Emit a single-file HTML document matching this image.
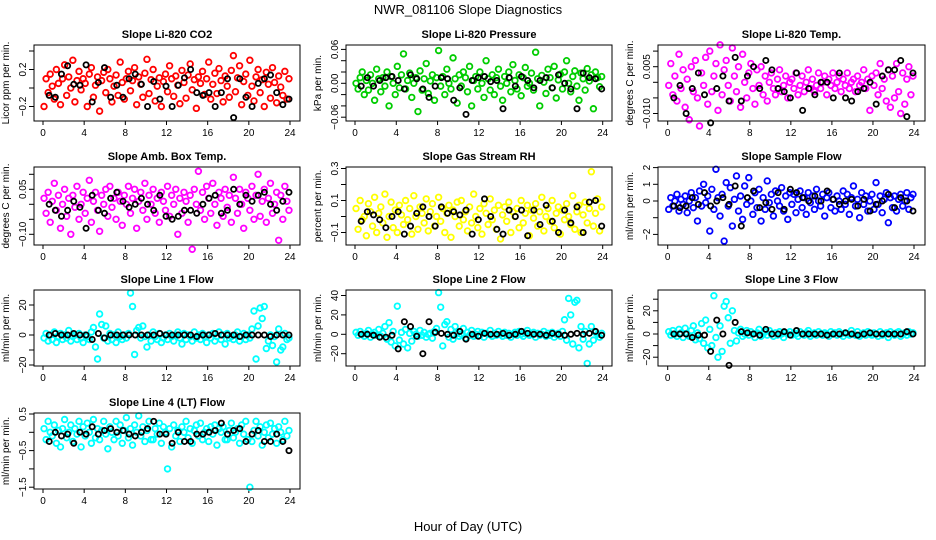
<!DOCTYPE html>
<html><head><meta charset="utf-8"><title>NWR_081106 Slope Diagnostics</title>
<style>
html,body{margin:0;padding:0;background:#fff;}
svg{display:block;font-family:"Liberation Sans",Arial,sans-serif;}
</style></head>
<body>
<svg id="chart" width="936" height="540" viewBox="0 0 936 540" xmlns="http://www.w3.org/2000/svg">
<text x="468" y="14" text-anchor="middle" font-size="13">NWR_081106  Slope Diagnostics</text>
<text x="468" y="531" text-anchor="middle" font-size="13">Hour of Day (UTC)</text>
</svg>
<script>
const xTicks=[0,4,8,12,16,20,24];
const co2Vals=[-.2,.1,-.05,.15,.02,-.12,.2,.05,-.18,.1,.25,-.08,.12,0,.3,-.15,.08,.18,-.02,.1,.05,-.2,.15,.22,-.1,.03,.12,-.25,.08,.17,-.05,.2,.1,-.15,.02,.14,-.08,.28,.06,-.12,.1,.18,-.03,.08,.22,-.18,.12,.04,-.1,.16,.31,-.06,.09,.2,-.14,.02,.11,-.2,.07,.15,-.04,.24,.1,-.09,.13,.03,-.17,.19,.06,-.11,.14,.26,-.02,.09,-.22,.12,.05,.18,-.07,.1,.28,-.12,.04,.16,-.06,.21,.08,-.15,.13,.02,-.1,.19,.35,-.04,.11,.24,-.18,.07,.15,-.08,.3,.02,-.14,.12,.2,-.05,.09,-.2,.17,.04,-.11,.22,.06,-.16,.13,.01,-.08,.18,-.12,.1];
const co2Black=[-.08,-.1,.15,.24,.04,.03,.25,-.15,.06,.22,-.1,.03,-.1,.1,.15,.04,-.2,.07,-.12,.02,-.2,.03,.11,.2,-.05,-.08,-.05,-.2,-.05,.1,-.32,.1,-.1,-.2,.05,.1,.14,-.05,-.18,-.12];
const presVals=[0,-.01,.01,.02,-.02,.005,-.012,.015,0,-.03,.025,.008,-.015,.01,-.005,.02,-.04,.012,0,-.02,.03,-.008,.015,.052,-.01,.005,.018,-.025,0,.01,-.05,.022,-.012,.008,.035,-.018,.004,.015,-.03,.01,.058,-.005,.012,-.02,.025,0,-.01,.045,.008,-.035,.015,-.005,.02,.01,-.015,.03,-.04,.005,.012,-.01,.02,0,-.025,.04,.008,-.012,.015,-.02,.01,.025,-.005,-.03,.012,0,.02,-.015,.033,.005,-.01,.015,-.022,.01,.028,-.005,0,.018,-.012,.055,.008,-.04,.014,.002,-.018,.025,.01,-.008,.03,-.026,.006,.016,-.01,.02,.04,0,-.015,.012,.022,-.005,-.03,.018,.008,-.012,.026,.004,.015,-.045,.02,.01,-.006,.012];
const presBlack=[-.005,.01,-.005,.005,.01,.012,.005,-.01,.015,.008,-.01,-.025,-.005,.01,.008,-.03,-.008,-.055,.005,.01,.012,.003,.005,-.045,.01,-.005,.012,.005,-.008,.005,.01,-.008,.015,0,-.01,-.045,.018,.01,.008,-.01];
const tempVals=[-.001,.006,-.004,.002,-.006,.009,-.002,.004,-.008,.001,-.012,.005,-.003,.007,-.005,-.014,.003,-.001,.008,-.007,.01,-.003,.002,.006,-.009,.012,-.004,.004,.007,-.001,-.006,.011,.002,-.003,.005,-.008,.009,0,-.005,.003,.006,-.002,-.007,.004,-.001,.005,-.004,.002,-.006,0,.003,-.002,-.004,.001,.004,-.003,-.001,.002,-.005,0,.001,-.002,.003,-.004,-.001,.002,-.003,0,.004,-.002,.001,-.003,-.001,.003,-.002,0,.002,-.004,.001,-.001,.003,-.002,0,.002,-.003,.001,-.001,.003,-.002,0,.001,-.003,.002,-.001,0,.004,-.002,.001,-.009,.002,-.001,.003,-.004,.006,-.002,.001,-.006,.004,-.008,.002,-.005,.006,-.003,-.01,.003,-.007,.001,.005,-.004,.002];
const tempBlack=[-.005,-.001,-.01,-.002,.003,-.004,-.013,-.002,.002,-.006,.008,-.006,.002,.005,-.002,.007,.004,-.002,-.003,-.005,.003,-.009,-.002,-.004,0,0,-.005,.003,-.005,-.006,-.003,-.002,0,-.007,.002,.004,.004,.007,-.011,.003];
const ambVals=[.02,-.03,.04,-.06,.01,.07,-.02,.03,-.08,0,.05,-.04,.02,-.1,.03,-.01,.06,-.05,0,.04,-.03,.02,.08,-.06,.01,.04,-.02,-.09,.03,0,.05,-.04,.06,-.01,.02,-.05,.04,.01,-.07,.03,0,.06,-.03,.02,.05,-.08,.01,.04,-.02,.07,-.05,.03,0,.05,-.03,.02,-.06,.04,.01,-.02,.06,-.04,.03,0,.05,-.1,.02,-.03,.04,.01,-.06,.03,-.15,.05,0,.11,-.02,.04,-.05,.06,.02,-.03,.07,0,-.07,.04,.02,-.04,.05,-.01,.03,-.06,.09,.02,-.03,.05,0,-.08,.04,.02,-.02,.06,-.05,.03,.1,-.04,.01,.05,-.06,.02,.07,-.03,0,.04,-.12,.03,-.05,.06,.01,-.02];
const ambBlack=[0,-.02,-.04,-.02,.01,-.01,-.08,.03,-.02,-.03,.02,.04,.01,-.01,0,.02,0,-.02,.03,-.04,-.05,-.04,-.02,-.02,-.03,0,.02,.03,-.03,-.02,.05,0,.03,.01,.03,.04,0,-.02,.01,.04];
const rhVals=[.05,-.08,.1,-.02,0,-.12,.08,.03,-.06,.12,-.1,.02,.06,-.04,.14,-.13,0,.09,-.07,.04,-.1,.07,.01,-.05,.1,-.02,.05,-.11,.13,0,-.08,.06,.02,-.04,.11,-.09,.03,.08,-.06,0,.12,-.03,.05,-.1,.02,.07,-.13,.04,0,.09,-.06,.1,-.02,.03,-.09,.06,-.04,.14,0,-.07,.05,-.11,.08,.02,-.05,.11,-.02,.04,-.08,.07,-.14,.01,.06,-.03,.09,-.1,.03,0,.05,-.07,.1,-.04,.02,.07,-.12,.04,-.01,.08,-.06,.03,.12,-.09,0,.05,-.03,.1,-.07,.02,.06,-.11,.04,-.02,.08,0,-.05,.13,-.08,.03,.07,-.1,.01,.09,-.04,.05,.28,-.06,.02,.11,-.09,.06];
const rhBlack=[-.03,.03,.01,-.02,-.07,0,.03,-.11,-.06,.02,.06,0,-.06,.06,.02,.03,.01,.04,-.11,-.02,.11,0,-.08,-.11,.04,0,.04,-.12,.04,-.05,.07,-.03,-.1,.04,-.04,.06,-.1,.09,.1,-.06];
const sampVals=[-.5,.2,-.3,0,.4,-.6,.1,-.2,.3,-.7,0,.5,-.4,.2,-1.2,.6,-.3,1,-.1,.3,-1.8,.7,-.5,1.9,.2,-.9,.4,-2.4,1.1,-.3,.8,-1.5,.1,1.5,-.6,.3,-1.1,.9,-.2,1.4,0,-.8,.5,-.4,.7,-1.2,.2,-.5,1.2,-.1,.4,-.9,.6,0,-.3,.8,-.6,.3,-1.1,.5,-.2,.4,-.7,.1,.6,-.4,.2,-.8,.5,-.1,.3,-.5,.7,0,-.3,.4,-.9,.2,.5,-.4,.1,-.6,.3,0,-.5,.6,-.2,.4,-.8,.2,.9,-.3,.1,-1,.5,-.2,.3,-.6,0,.4,-.5,1.1,-.2,.3,-.7,.1,.5,-1.3,.2,-.4,.3,-.6,.1,.4,-.3,0,.5,-.5,.2,.4];
const sampBlack=[-.3,-.4,-.3,.2,-.2,.5,-.3,0,.2,-.2,.9,-1.5,.2,.6,-.4,-.1,-.5,.5,-.5,.7,.5,.2,0,.3,0,.6,.1,-.2,0,.1,-.3,.1,-.6,-.2,0,.4,-.4,.2,0,-.6];
const l1Vals=[-2,1,-4,0,-3,2,-5,-1,1,-3,0,-2,3,-4,-1,0,-3,1,-2,-5,0,-1,-3,2,5,-8,-16,14,7,-2,6,-4,1,-3,0,-5,2,-1,-3,0,-2,1,28,19,-13,3,5,-2,6,-1,-8,0,-4,2,-1,-3,1,-5,-2,0,-3,1,-1,-4,0,2,-2,-6,1,-3,0,-1,-4,2,-2,0,-3,1,-1,-5,0,-2,1,-4,-1,2,-3,0,-6,1,-2,-1,-3,0,2,-4,-1,1,-3,0,-2,4,16,-16,6,18,11,19,-9,-4,0,-7,-1,-18,4,-10,-8,1,-3,-2];
const l1Black=[0,1,0,0,1,0,0,-3,1,-2,0,0,0,0,0,0,0,0,1,0,0,0,0,0,-1,0,0,1,0,0,0,-1,0,0,0,0,-1,0,0,0];
const l2Vals=[2,-1,3,0,-2,1,4,-3,0,2,-1,5,-2,1,8,-5,12,-8,3,-12,29,-6,2,-10,5,-14,1,-7,3,0,-2,4,-1,2,-3,0,1,-4,3,6,43,28,-12,10,13,-3,5,-5,8,1,-2,0,6,-4,2,-1,4,-2,0,3,-1,2,-3,1,0,4,-2,1,-1,3,0,-2,2,-1,1,-3,0,2,-1,3,0,-2,1,4,-1,0,2,-3,1,-1,0,3,-2,1,-1,2,-3,0,1,-2,3,15,-6,37,20,-10,33,35,-14,8,-5,3,-30,-10,8,-6,2,0,-3,1];
const l2Black=[0,0,-1,-3,-3,-1,-15,13,8,-2,-20,13,2,1,0,-1,3,-5,0,-2,1,0,0,1,-1,0,3,1,0,0,-1,1,0,-1,0,1,0,1,3,-1];
const l3Vals=[2,-1,3,0,-2,4,1,-3,5,0,-2,3,7,-5,1,-4,9,-8,12,-12,4,-10,33,-3,-20,7,-15,24,28,14,-8,20,3,-6,1,4,-2,0,3,-1,2,0,-3,1,4,-2,0,2,-1,3,0,-2,1,-1,2,0,-3,1,0,2,-1,1,0,-2,2,0,-1,1,3,-2,0,1,-1,2,0,-1,1,0,-2,2,0,1,-1,2,0,-2,1,0,-1,3,0,-1,2,-2,0,1,-1,2,0,-1,1,0,-2,2,-1,0,1,-3,2,0,-1,1,2,-2,0,1,-1,2,0,1];
const l3Black=[0,0,0,-3,-1,-1,-15,12,0,-27,10,2,1,0,-1,4,0,0,2,-1,3,0,0,0,0,-1,0,0,1,0,-1,0,1,0,0,0,0,0,2,0];
const l4Vals=[.1,-.2,.3,0,-.1,.2,-.3,.05,-.4,.1,.35,-.15,0,.2,-.25,.1,-.05,.3,-.4,.15,-.1,.25,0,-.3,.35,-.15,.1,-.2,.05,.3,-.05,-.45,.15,0,-.2,.3,-.1,.2,-.3,.05,.4,-.15,.1,-.35,.2,0,.45,-.1,.15,-.25,.05,.3,-.2,-.2,.1,-.05,.25,-.3,.15,0,-1,.1,-.4,.2,-.1,.05,-.25,.15,0,.3,-.15,.1,-.3,.05,.2,-.1,.25,-.2,0,.1,-.25,.15,-.05,.2,-.35,.1,0,.15,-.2,-.2,.05,.25,-.15,0,.1,-.3,.2,-.05,.3,-.2,-1.5,-.25,.05,.3,-.1,.15,-.35,0,.2,-.15,.25,-.05,.1,-.3,.15,0,-.2,.3,-.1,.05];
const l4Black=[-.25,0,-.1,-.05,-.3,0,-.05,.15,-.05,.05,.1,0,.05,-.05,-.1,0,.1,.3,-.05,-.05,-.3,0,-.25,-.25,-.05,-.05,0,.05,.25,-.05,.05,.1,-.25,-.05,.05,-.25,-.25,-.05,-.25,-.5];

const rowTop=[45,167,290,413], rowBot=[121,245,366,489];
const colL=[34,346,658], colR=[300,612,925], colX0=[43,355,667.7], colX24=[290,602.7,914];
const panels=[
 {id:'co2',title:'Slope Li-820 CO2',ylab:'Licor ppm per min.',c:0,r:0,color:'#ff0000',vals:co2Vals,blk:co2Black,y0:88,unit:0.1,upx:9.25,ticks:[0.4,0.2,0,-0.2],labels:[0.2,-0.2],fmt:v=>v.toFixed(1)},
 {id:'pressure',title:'Slope Li-820 Pressure',ylab:'kPa per min.',c:1,r:0,color:'#00cd00',vals:presVals,blk:presBlack,y0:83.3,unit:0.02,upx:11.3,ticks:[0.06,0.04,0.02,0,-0.02,-0.04,-0.06],labels:[0.06,0,-0.06],fmt:v=>v.toFixed(2)},
 {id:'temp',title:'Slope Li-820 Temp.',ylab:'degrees C per min.',c:2,r:0,color:'#ff00ff',vals:tempVals,blk:tempBlack,y0:82.3,unit:0.005,upx:15.6,ticks:[0.01,0.005,0,-0.005,-0.01],labels:[0.005,-0.01],fmt:v=>v.toFixed(3)},
 {id:'amb-box-temp',title:'Slope Amb. Box Temp.',ylab:'degrees C per min.',c:0,r:1,color:'#ff00ff',vals:ambVals,blk:ambBlack,y0:204.3,unit:0.05,upx:15,ticks:[0.1,0.05,0,-0.05,-0.1],labels:[0.05,-0.1],fmt:v=>v.toFixed(2)},
 {id:'gas-rh',title:'Slope Gas Stream RH',ylab:'percent per min.',c:1,r:1,color:'#ffff00',vals:rhVals,blk:rhBlack,y0:216.5,unit:0.1,upx:16,ticks:[0.3,0.2,0.1,0,-0.1],labels:[0.3,0.1,-0.1],fmt:v=>v.toFixed(1)},
 {id:'sample-flow',title:'Slope Sample Flow',ylab:'ml/min per min.',c:2,r:1,color:'#0000ff',vals:sampVals,blk:sampBlack,y0:201,unit:1,upx:16.7,ticks:[2,1,0,-1,-2],labels:[2,1,0,-2],fmt:v=>String(v)},
 {id:'line1-flow',title:'Slope Line 1 Flow',ylab:'ml/min per min.',c:0,r:2,color:'#00ffff',vals:l1Vals,blk:l1Black,y0:335,unit:10,upx:15,ticks:[20,10,0,-10,-20],labels:[20,0,-20],fmt:v=>String(v)},
 {id:'line2-flow',title:'Slope Line 2 Flow',ylab:'ml/min per min.',c:1,r:2,color:'#00ffff',vals:l2Vals,blk:l2Black,y0:334.3,unit:20,upx:19.4,ticks:[40,20,0,-20],labels:[40,20,0,-20],fmt:v=>String(v)},
 {id:'line3-flow',title:'Slope Line 3 Flow',ylab:'ml/min per min.',c:2,r:2,color:'#00ffff',vals:l3Vals,blk:l3Black,y0:334,unit:10,upx:11.6,ticks:[30,20,10,0,-10,-20],labels:[20,0,-20],fmt:v=>String(v)},
 {id:'line4-flow',title:'Slope Line 4 (LT) Flow',ylab:'ml/min per min.',c:0,r:3,color:'#00ffff',vals:l4Vals,blk:l4Black,y0:432.3,unit:0.5,upx:18.3,ticks:[0.5,0,-0.5,-1,-1.5],labels:[0.5,-0.5,-1.5],fmt:v=>v.toFixed(1)}
];
const NS='http://www.w3.org/2000/svg';
const svg=document.getElementById('chart');
function mk(tag,attrs,parent){const e=document.createElementNS(NS,tag);for(const k in attrs)e.setAttribute(k,attrs[k]);(parent||svg).appendChild(e);return e;}
panels.forEach(p=>{
  const g=mk('g',{});
  
  
  const L=colL[p.c],R=colR[p.c],T=rowTop[p.r],B=rowBot[p.r];
  const xs=h=>colX0[p.c]+(colX24[p.c]-colX0[p.c])*h/24;
  const ys=v=>p.y0-v/p.unit*p.upx;
  const t=mk('text',{x:(L+R)/2,y:T-7,'text-anchor':'middle','font-size':'11','font-weight':'bold'},g);
  t.textContent=p.title;
  
  
  const yl=mk('text',{x:0,y:0,'text-anchor':'middle','font-size':'10',transform:`translate(${L-25},${(T+B)/2}) rotate(-90)`},g);
  yl.textContent=p.ylab;
  
  
  p.ticks.forEach(v=>{
    const y=ys(v);
    const tk=mk('line',{x1:L-5,x2:L,y1:y,y2:y,stroke:'#000','stroke-width':1},g);
    
    
  });
  p.labels.forEach(v=>{
    const y=ys(v);
    const lb=mk('text',{x:0,y:0,'text-anchor':'middle','font-size':'10',transform:`translate(${L-8},${y}) rotate(-90)`},g);
    lb.textContent=p.fmt(v).replace(/^-/,'−');
    
    
  });
  xTicks.forEach(h=>{
    const x=xs(h);
    const tk=mk('line',{x1:x,x2:x,y1:B,y2:B+4,stroke:'#000','stroke-width':1},g);
    
    
    const lb=mk('text',{x:x,y:B+15,'text-anchor':'middle','font-size':'10'},g);
    lb.textContent=String(h);
    
    
  });
  const n=p.vals.length;
  p.vals.forEach((v,i)=>{
    const h=0.1+i*23.8/(n-1);
    const c=mk('circle',{cx:xs(h),cy:ys(v),r:2.8,fill:'none',stroke:p.color,'stroke-width':1.8},g);
    
    
  });
  const m=p.blk.length;
  p.blk.forEach((v,i)=>{
    const h=0.6+i*23.3/(m-1);
    const c=mk('circle',{cx:xs(h),cy:ys(v),r:2.6,fill:'none',stroke:'#000','stroke-width':1.8},g);
    
    
  });
  const box=mk('rect',{x:L,y:T,width:R-L,height:B-T,fill:'none',stroke:'#000','stroke-width':1},g);
  
  
});
</script>
</body></html>
